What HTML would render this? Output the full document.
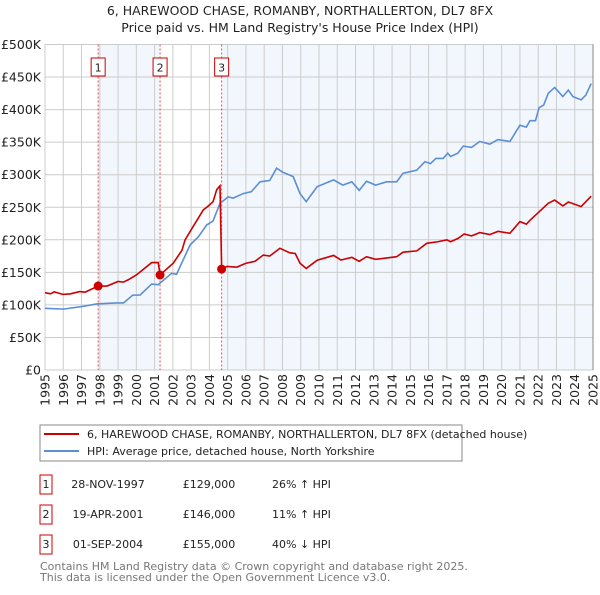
<!DOCTYPE html>
<html><head><meta charset="utf-8"><style>
body{margin:0;background:#fff;font-family:"Liberation Sans","DejaVu Sans",sans-serif;}
svg text{font-family:"DejaVu Sans","Liberation Sans",sans-serif;}
</style></head><body>
<svg id="chart" width="600" height="590" xmlns="http://www.w3.org/2000/svg">
<text x="300" y="15" text-anchor="middle" font-size="12.5" fill="#222">6, HAREWOOD CHASE, ROMANBY, NORTHALLERTON, DL7 8FX</text>
<text x="300" y="32" text-anchor="middle" font-size="12.5" fill="#222">Price paid vs. HM Land Registry's House Price Index (HPI)</text>
<g id="plot"></g>
<g>
<rect x="40" y="425" width="422" height="36" fill="#fff" stroke="#888"/>
<line x1="44" y1="434" x2="79" y2="434" stroke="#cc0000" stroke-width="2"/>
<text x="87" y="438" font-size="11" fill="#222">6, HAREWOOD CHASE, ROMANBY, NORTHALLERTON, DL7 8FX (detached house)</text>
<line x1="44" y1="451" x2="79" y2="451" stroke="#5b8fd4" stroke-width="2"/>
<text x="87" y="455" font-size="11" fill="#222">HPI: Average price, detached house, North Yorkshire</text>
</g>
<g font-size="11" fill="#222">
<rect x="40" y="475" width="12" height="19" fill="#fff" stroke="#cc0000"/>
<text x="46" y="488" text-anchor="middle">1</text>
<text x="108" y="488" text-anchor="middle">28-NOV-1997</text>
<text x="209" y="488" text-anchor="middle">£129,000</text>
<text x="272" y="488">26% ↑ HPI</text>
<rect x="40" y="505" width="12" height="19" fill="#fff" stroke="#cc0000"/>
<text x="46" y="518" text-anchor="middle">2</text>
<text x="108" y="518" text-anchor="middle">19-APR-2001</text>
<text x="209" y="518" text-anchor="middle">£146,000</text>
<text x="272" y="518">11% ↑ HPI</text>
<rect x="40" y="535" width="12" height="19" fill="#fff" stroke="#cc0000"/>
<text x="46" y="548" text-anchor="middle">3</text>
<text x="108" y="548" text-anchor="middle">01-SEP-2004</text>
<text x="209" y="548" text-anchor="middle">£155,000</text>
<text x="272" y="548">40% ↓ HPI</text>
</g>
<text x="40" y="570" font-size="11" fill="#777">Contains HM Land Registry data © Crown copyright and database right 2025.</text>
<text x="40" y="581" font-size="11" fill="#777">This data is licensed under the Open Government Licence v3.0.</text>
</svg>
<script>
const yTicks=[0,50,100,150,200,250,300,350,400,450,500];
const yTickLabels=["£0","£50K","£100K","£150K","£200K","£250K","£300K","£350K","£400K","£450K","£500K"];
const xTicks=[1995,1996,1997,1998,1999,2000,2001,2002,2003,2004,2005,2006,2007,2008,2009,2010,2011,2012,2013,2014,2015,2016,2017,2018,2019,2020,2021,2022,2023,2024,2025];
const saleYears=[1997.91,2001.3,2004.67];
const salePrices=[129,146,155];
const saleLabels=["1","2","3"];
const hpiYears=[1995,1996,1997.1,1997.83,1998.9,1999.3,1999.8,2000.2,2000.84,2001.2,2001.93,2002.2,2002.94,2003.4,2003.85,2004.2,2004.58,2005.03,2005.3,2005.85,2006.3,2006.77,2007.0,2007.3,2007.68,2008.0,2008.59,2008.96,2009.3,2009.9,2010.8,2011.3,2011.8,2012.2,2012.6,2013.1,2013.7,2014.25,2014.6,2015.35,2015.8,2016.1,2016.4,2016.8,2017.05,2017.2,2017.6,2017.9,2018.35,2018.8,2019.35,2019.8,2020.45,2021,2021.35,2021.55,2021.85,2022.05,2022.3,2022.55,2022.9,2023.35,2023.65,2023.9,2024.35,2024.6,2024.9];
const hpiValues=[94.7,93.5,97.8,101.5,103,103,115,115,132,131,148.5,147,192,204.8,222.7,229,256,266,264,271,274,289,290,291,310,304,297,271,258.6,281.6,292,284,289,276,290,284,289,289,302,307,320,317,325,325,333,328,333,344,342,351,347,354,351,376,373,383,383,403,407,425,434,420,430,420,415,422,440];
const priceYears=[1995,1995.3,1995.5,1996,1996.4,1996.9,1997.2,1997.91,1998.4,1999,1999.3,1999.56,2000.0,2000.84,2001.2,2001.3,2002.02,2002.5,2002.67,2002.94,2003.1,2003.67,2003.9,2004.2,2004.4,2004.58,2004.67,2004.96,2005.5,2006,2006.5,2006.95,2007.3,2007.86,2008.4,2008.7,2008.96,2009.3,2009.9,2010.8,2011.2,2011.8,2012.2,2012.6,2013.1,2014.25,2014.6,2015.35,2015.9,2016.5,2017,2017.2,2017.6,2017.95,2018.35,2018.8,2019.35,2019.8,2020.45,2021,2021.35,2021.55,2022.05,2022.55,2022.9,2023.35,2023.65,2024.35,2024.9];
const priceValues=[118.8,117,120,116,117,120.5,119.6,129,129,136,135,138.6,146,165,165,146,164,184,200,212.5,220,246,251,258.5,277,283,155,159,158,164,167,176.6,175,187,180,179,164,156,168.6,176,169,173,167,174,170,174,181,183,194.6,197,200,197,202,209,206,211,208,213,210,228,224,230,243,256,261,252,258,251,267];

const NS="http://www.w3.org/2000/svg";
const L=45,R=593,T=44.5,B=370;
const xs=y=>L+(y-1995)*(R-L)/30;
const ys=v=>B-v*(B-T)/500;
const g=document.getElementById('plot');
function mk(tag,attrs){const e=document.createElementNS(NS,tag);for(const k in attrs)e.setAttribute(k,attrs[k]);g.appendChild(e);return e;}
let e;
e=mk('rect',{x:xs(saleYears[0]),y:T,width:xs(saleYears[1])-xs(saleYears[0]),height:B-T,fill:'#f2f6fd'});


e=mk('rect',{x:xs(saleYears[2]),y:T,width:R-xs(saleYears[2]),height:B-T,fill:'#f2f6fd'});


yTicks.forEach((v,i)=>{
 e=mk('line',{x1:L,x2:R,y1:ys(v),y2:ys(v),stroke:'#ccc','stroke-width':1});
 
 
 e=mk('text',{x:L-4,y:ys(v)+4.5,'text-anchor':'end','font-size':'12.5',fill:'#222'});
 e.textContent=yTickLabels[i];
 
 
});
xTicks.forEach(y=>{
 e=mk('line',{x1:xs(y),x2:xs(y),y1:T,y2:B,stroke:'#ccc','stroke-width':1});
 
 
 const tx=xs(y)+4.5,ty=B+4;
 e=mk('text',{x:tx,y:ty,'text-anchor':'end','font-size':'12.5',fill:'#222',transform:`rotate(-90 ${tx} ${ty})`});
 e.textContent=y;
 
 
});
e=mk('rect',{x:L,y:T,width:R-L,height:B-T,fill:'none',stroke:'#ccc'});


e=mk('line',{x1:R,x2:R,y1:T,y2:B,stroke:'#888'});


saleYears.forEach((y,i)=>{
 e=mk('line',{x1:xs(y),x2:xs(y),y1:T,y2:B,stroke:'#e05050','stroke-width':1,'stroke-dasharray':'2,2'});
 
 
 e=mk('rect',{x:xs(y)-7,y:58,width:14,height:18,fill:'#fff',stroke:'#cc0000'});
 
 
 e=mk('text',{x:xs(y),y:71.5,'text-anchor':'middle','font-size':'11',fill:'#222'});
 e.textContent=saleLabels[i];
 
 
});
e=mk('polyline',{points:hpiYears.map((y,i)=>xs(y)+','+ys(hpiValues[i])).join(' '),fill:'none',stroke:'#5b8fd4','stroke-width':1.6});


e=mk('polyline',{points:priceYears.map((y,i)=>xs(y)+','+ys(priceValues[i])).join(' '),fill:'none',stroke:'#cc0000','stroke-width':1.6});


saleYears.forEach((y,i)=>{
 e=mk('circle',{cx:xs(y),cy:ys(salePrices[i]),r:4.5,fill:'#cc0000'});
 
 
});
</script>
</body></html>
